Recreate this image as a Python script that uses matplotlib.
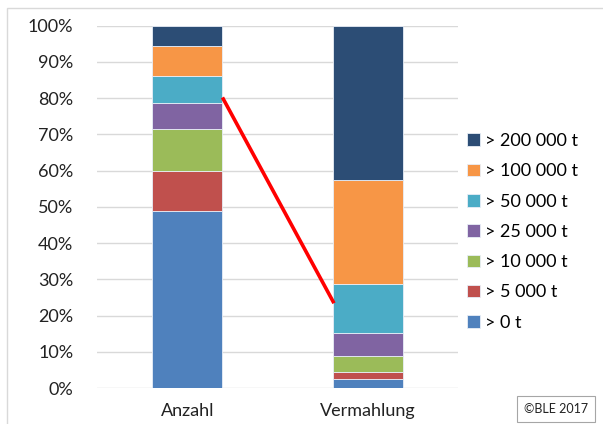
import numpy as np
import matplotlib.pyplot as plt
from matplotlib.patches import Rectangle

plt.rcParams['font.family'] = ['Lato', 'DejaVu Sans']

# Anteile je Betriebsgroessenklasse (in %)
categories = ['Anzahl', 'Vermahlung']
classes = ['> 0 t', '> 5 000 t', '> 10 000 t', '> 25 000 t',
           '> 50 000 t', '> 100 000 t', '> 200 000 t']
anzahl = [48.9, 11.1, 11.5, 7.3, 7.2, 8.4, 5.6]
vermahlung = [2.4, 1.9, 4.4, 6.4, 13.7, 28.6, 42.6]
colors = ['#4F81BD', '#C0504D', '#9BBB59', '#8064A2',
          '#4BACC6', '#F79646', '#2C4D75']

# Linie zwischen Anzahl (> 50 000 t) und Vermahlung
arrow_from = (0.195, 80.2)
arrow_to = (0.813, 23.4)

fig = plt.figure(figsize=(6.03, 4.24), dpi=100)
ax = fig.add_axes([0.1609, 0.0849, 0.5986, 0.8545])

x = np.arange(len(categories))
values = np.array([anzahl, vermahlung])
bottom = np.zeros(len(categories))
handles = []
for i, lab in enumerate(classes):
    b = ax.bar(x, values[:, i], bottom=bottom, width=0.39, color=colors[i],
               edgecolor='#e8eef7', linewidth=0.6, label=lab, zorder=3)
    handles.append(b)
    bottom += values[:, i]

ax.plot([arrow_from[0], arrow_to[0]], [arrow_from[1], arrow_to[1]],
        color='#FF0000', lw=2.6, solid_capstyle='butt', zorder=4)

ax.set_xlim(-0.5, 1.5)
ax.set_ylim(0, 100)
ax.set_yticks(np.arange(0, 101, 10))
ax.set_yticklabels([f'{v}%' for v in range(0, 101, 10)])
ax.set_xticks(x)
ax.set_xticklabels(categories)
ax.tick_params(length=0, labelsize=13, colors='#222222')
ax.tick_params(axis='y', pad=17)
ax.tick_params(axis='x', pad=11)
ax.grid(axis='y', color='#d9d9d9', lw=1, zorder=0)
for s in ax.spines.values():
    s.set_visible(False)

leg = fig.legend(handles[::-1], classes[::-1], loc='center left',
                 bbox_to_anchor=(0.748, 0.453), frameon=False, fontsize=13,
                 handlelength=0.7, handleheight=0.7, handletextpad=0.3,
                 labelspacing=0.79)

# Rahmen um das Diagramm
fig.patches.append(Rectangle((7 / 603, -0.05), 1.2, 1 - 8 / 424 + 0.05,
                             transform=fig.transFigure, fill=False,
                             edgecolor='#d9d9d9', lw=1))

fig.text(556 / 603, 15 / 424, '©BLE 2017', ha='center', va='center',
         fontsize=9, color='#222222',
         bbox=dict(boxstyle='square,pad=0.55', facecolor='white',
                   edgecolor='#a6a6a6', lw=0.8))

fig.savefig('out.png', dpi=100)
